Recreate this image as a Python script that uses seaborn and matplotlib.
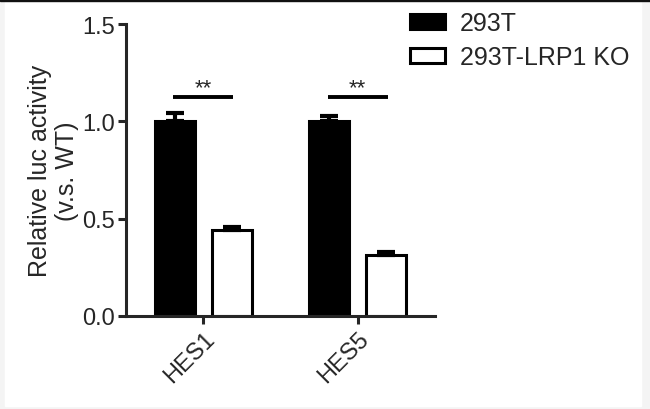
import numpy as np
import pandas as pd
import seaborn as sns
import matplotlib.pyplot as plt
from matplotlib.patches import Rectangle

genes = ["HES1", "HES5"]
groups = ["293T", "293T-LRP1 KO"]
means_293t = [1.0, 1.0]
means_ko = [0.443, 0.311]
sem_293t = [0.045, 0.027]
sem_ko = [0.014, 0.015]
sig_labels = ["**", "**"]
sig_height = [1.127, 1.127]

sns.set_style("ticks")
plt.rcParams["font.family"] = ["Liberation Sans", "DejaVu Sans"]

df = pd.DataFrame({
    "gene": genes * 2,
    "group": [groups[0]] * 2 + [groups[1]] * 2,
    "value": means_293t + means_ko,
})
errs = sem_293t + sem_ko

fig = plt.figure(figsize=(6.5, 4.1), dpi=100, facecolor="#f4f4f4")
# white panel inside a light grey margin, dark line along the top edge
fig.patches.append(Rectangle((5 / 650, 3 / 410), 636 / 650, 404 / 410,
                             transform=fig.transFigure, color="white", zorder=-2))
fig.patches.append(Rectangle((0, 408 / 410), 1, 2 / 410, transform=fig.transFigure,
                             color="#111111", zorder=-1))

ax = fig.add_axes([0.194, 0.227, 0.475, 0.712])
ax.set_facecolor("none")

sns.barplot(data=df, x="gene", y="value", hue="group", order=genes,
            hue_order=groups, palette=["black", "white"], errorbar=None,
            width=0.74, gap=0.3, edgecolor="black", linewidth=2.2, ax=ax)

# upward-only error bars on top of each bar
bars = ax.patches[:4]
centers = []
for bar, e in zip(bars, errs):
    cx = bar.get_x() + bar.get_width() / 2
    h = bar.get_height()
    centers.append(cx)
    ax.errorbar(cx, h, yerr=[[0], [e]], color="black", capsize=6.5,
                elinewidth=3, capthick=3, zorder=1)

# significance lines + stars
for i in range(len(genes)):
    x0, x1 = centers[i], centers[i + 2]
    ax.plot([x0 - 0.01, x1 + 0.01], [sig_height[i]] * 2, color="black",
            lw=2.8, solid_capstyle="butt")
    ax.text((x0 + x1) / 2, sig_height[i] + 0.015, sig_labels[i], ha="center",
            va="baseline", fontsize=16)

ax.set_ylim(0, 1.5)
ax.set_xlim(-0.5, 1.5)
ax.set_yticks([0, 0.5, 1.0, 1.5])
ax.set_yticklabels(["0.0", "0.5", "1.0", "1.5"])
ax.set_xlabel("")
ax.set_ylabel("Relative luc activity\n(v.s. WT)", fontsize=18, labelpad=2)
ax.tick_params(axis="both", labelsize=17, width=2.2, length=6, pad=2)
plt.setp(ax.get_xticklabels(), rotation=45, ha="right", rotation_mode="anchor")
sns.despine(ax=ax)
for s in ["left", "bottom"]:
    ax.spines[s].set_linewidth(2.2)

leg = ax.legend(loc="upper left", bbox_to_anchor=(0.615, 0.995),
                bbox_transform=fig.transFigure, frameon=False,
                fontsize=18, handlelength=1.4, handleheight=0.55,
                labelspacing=0.4, handletextpad=0.6, borderaxespad=0)
for h in leg.legend_handles:
    h.set_linewidth(2.2)

fig.savefig("out.png", dpi=100, facecolor=fig.get_facecolor())
